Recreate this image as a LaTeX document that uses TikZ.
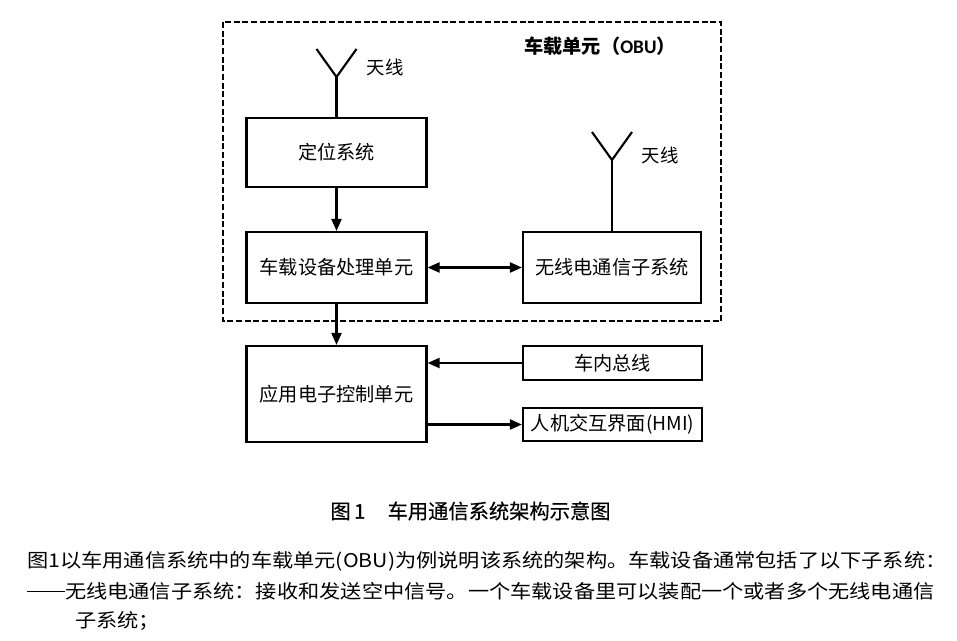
\documentclass[tikz,border=0pt]{standalone}
\usepackage{fontspec}
\usetikzlibrary{arrows.meta}
\setmainfont{Liberation Serif}
\newfontfamily\cjk{Noto Sans CJK SC}
\newfontfamily\cjkwide[FakeStretch=1.12]{Noto Sans CJK SC}
\newfontfamily\cjkcap[FakeBold=0.4]{Noto Sans CJK SC}
\newfontfamily\obufont{Carlito}
\def\px{0.75pt}
\tikzset{
  box/.style={draw, line width=1.6pt, inner sep=0pt, font=\cjk\fontsize{14.4pt}{16pt}\selectfont},
  arr/.style={line width=1.6pt, -{Triangle[length=9pt,width=7.5pt]}},
  darr/.style={line width=1.6pt, {Triangle[length=9pt,width=7.5pt]}-{Triangle[length=9pt,width=7.5pt]}},
  ant/.style={line width=1.6pt},
  lbl/.style={font=\cjk\fontsize{13.8pt}{16pt}\selectfont, inner sep=0pt},
  para/.style={anchor=west, inner sep=0pt, font=\cjkwide\fontsize{14.2pt}{16pt}\selectfont}
}
\begin{document}
\begin{tikzpicture}[x=0.75pt,y=-0.75pt]
\useasboundingbox (0,0) rectangle (957,641);
% dashed OBU boundary
\draw[line width=1.5pt, dash pattern=on 4.5pt off 2pt] (223,22) rectangle (721,321);
\node[inner sep=0pt] (obu) at (600,46) {\cjk\fontsize{14.4pt}{16pt}\selectfont\bfseries 车载单元（\obufont\bfseries OBU\cjk\bfseries ）};
% boxes
\node[box, minimum width={180*\px}, minimum height={69*\px}] (dw) at (336.5,152.5) {定位系统};
\node[box, minimum width={180*\px}, minimum height={71*\px}] (cp) at (336.5,267.5) {车载设备处理单元};
\node[box, minimum width={178*\px}, minimum height={71*\px}] (wl) at (612,267.5) {无线电通信子系统};
\node[box, minimum width={180*\px}, minimum height={96*\px}] (app) at (336.5,394) {应用电子控制单元};
\node[box, minimum width={179*\px}, minimum height={34*\px}] (bus) at (612.5,363) {车内总线};
\node[box, minimum width={179*\px}, minimum height={33*\px}] (hmi) at (612.5,424.5) {人机交互界面(HMI)};
% antenna 1
\coordinate (v1) at (336.5,77);
\coordinate (l1) at (316.5,49);
\coordinate (r1) at (356.5,49);
\draw[ant] (l1) -- (v1) -- (r1);
\draw[ant] (v1) -- (dw.north);
\node[lbl] (t1) at (385,67) {天线};
% antenna 2
\coordinate (v2) at (612,160);
\coordinate (l2) at (592,132);
\coordinate (r2) at (632,132);
\draw[ant] (l2) -- (v2) -- (r2);
\draw[ant] (v2) -- (wl.north);
\node[lbl] (t2) at (660,155) {天线};
% connectors
\draw[arr] (dw.south) -- (cp.north);
\draw[darr] (cp.east) -- (wl.west);
\draw[arr] (cp.south) -- (app.north);
\draw[arr] (bus.west) -- (bus.west -| app.east);
\draw[arr] (app.east |- hmi.west) -- (hmi.west);
% caption
\node[inner sep=0pt, font=\cjkcap\fontsize{15.2pt}{16pt}\selectfont] (cap) at (470.5,511) {图\,1\hspace{1.1em}车用通信系统架构示意图};
% paragraph
\node[para] (p1) at (27,561) {图1以车用通信系统中的车载单元(OBU)为例说明该系统的架构。车载设备通常包括了以下子系统：};
\node[para] (p2) at (27,591) {\rule[0.33em]{2em}{0.06em}无线电通信子系统：接收和发送空中信号。一个车载设备里可以装配一个或者多个无线电通信};
\node[para] (p3) at (75,621) {子系统；};
\end{tikzpicture}
\end{document}
